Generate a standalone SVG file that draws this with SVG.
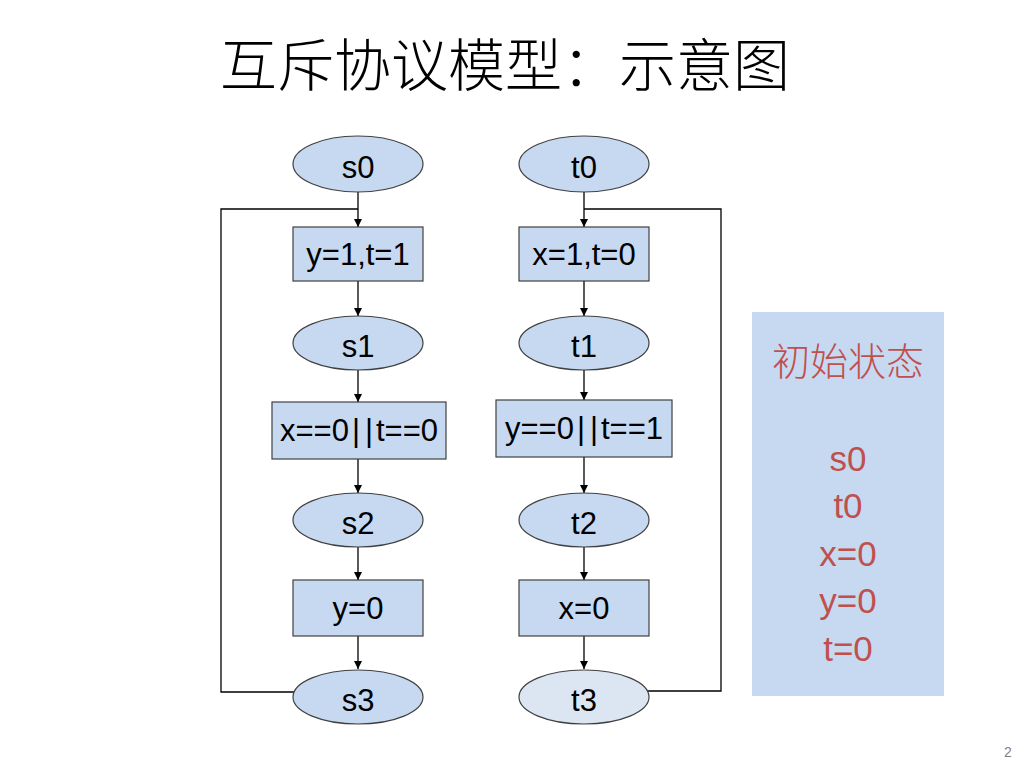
<svg xmlns="http://www.w3.org/2000/svg" width="1024" height="768" viewBox="0 0 1024 768">
<defs>
<marker id="arr" viewBox="0 0 10 10" refX="10" refY="5" markerWidth="8" markerHeight="9" markerUnits="userSpaceOnUse" orient="auto">
<path d="M0,0 L10,5 L0,10 z" fill="#000"/>
</marker>
<style>
.node{fill:#c6d9f1;stroke:#404040;stroke-width:1.2}
.light{fill:#dce6f2;stroke:#404040;stroke-width:1.2}
.lbl{font-family:"Liberation Sans",Arial,sans-serif;font-size:31px;fill:#000;text-anchor:middle}
.conn{fill:none;stroke:#000;stroke-width:1.3}
.red{font-family:"Liberation Sans",Arial,sans-serif;font-size:35px;fill:#c0504d;text-anchor:middle}
.cjk{font-family:"Noto Sans CJK SC",sans-serif;font-weight:300}
</style>
</defs>
<rect width="1024" height="768" fill="#fff"/>
<text class="cjk" x="505" y="86" font-size="57" text-anchor="middle" fill="#000">互斥协议模型：示意图</text>

<g id="connectors">
<line class="conn" x1="358" y1="192" x2="358" y2="227" marker-end="url(#arr)"/>
<line class="conn" x1="358" y1="281" x2="358" y2="316" marker-end="url(#arr)"/>
<line class="conn" x1="358" y1="370" x2="358" y2="402" marker-end="url(#arr)"/>
<line class="conn" x1="358" y1="459" x2="358" y2="493" marker-end="url(#arr)"/>
<line class="conn" x1="358" y1="547" x2="358" y2="580" marker-end="url(#arr)"/>
<line class="conn" x1="358" y1="636" x2="358" y2="669" marker-end="url(#arr)"/>
<polyline class="conn" points="295,692 221,692 221,209 358,209"/>
<line class="conn" x1="584" y1="192" x2="584" y2="227" marker-end="url(#arr)"/>
<line class="conn" x1="584" y1="281" x2="584" y2="316" marker-end="url(#arr)"/>
<line class="conn" x1="584" y1="370" x2="584" y2="400" marker-end="url(#arr)"/>
<line class="conn" x1="584" y1="457" x2="584" y2="493" marker-end="url(#arr)"/>
<line class="conn" x1="584" y1="547" x2="584" y2="580" marker-end="url(#arr)"/>
<line class="conn" x1="584" y1="636" x2="584" y2="669" marker-end="url(#arr)"/>
<polyline class="conn" points="647,691 721,691 721,209 584,209"/>
</g>

<g id="s0"><ellipse class="node" cx="358" cy="164" rx="65" ry="28"/><text class="lbl" x="358" y="178">s0</text></g>
<g id="a1"><rect class="node" x="293" y="227" width="130" height="54"/><text class="lbl" x="358" y="265">y=1,t=1</text></g>
<g id="s1"><ellipse class="node" cx="358" cy="343" rx="65" ry="27"/><text class="lbl" x="358" y="357">s1</text></g>
<g id="c1"><rect class="node" x="272" y="402" width="174" height="57"/><text class="lbl" x="359" y="441">x==0<tspan dx="3">|</tspan><tspan dx="5">|</tspan><tspan dx="3">t==0</tspan></text></g>
<g id="s2"><ellipse class="node" cx="358" cy="520" rx="65" ry="27"/><text class="lbl" x="358" y="534">s2</text></g>
<g id="a2"><rect class="node" x="293" y="580" width="130" height="56"/><text class="lbl" x="358" y="619">y=0</text></g>
<g id="s3"><ellipse class="node" cx="358" cy="697" rx="65" ry="27"/><text class="lbl" x="358" y="711">s3</text></g>

<g id="t0"><ellipse class="node" cx="584" cy="164" rx="65" ry="28"/><text class="lbl" x="584" y="178">t0</text></g>
<g id="b1"><rect class="node" x="519" y="227" width="130" height="54"/><text class="lbl" x="584" y="265">x=1,t=0</text></g>
<g id="t1"><ellipse class="node" cx="584" cy="343" rx="65" ry="27"/><text class="lbl" x="584" y="357">t1</text></g>
<g id="d1"><rect class="node" x="496" y="400" width="176" height="57"/><text class="lbl" x="584" y="439">y==0<tspan dx="3">|</tspan><tspan dx="5">|</tspan><tspan dx="3">t==1</tspan></text></g>
<g id="t2"><ellipse class="node" cx="584" cy="520" rx="65" ry="27"/><text class="lbl" x="584" y="534">t2</text></g>
<g id="b2"><rect class="node" x="519" y="580" width="130" height="56"/><text class="lbl" x="584" y="619">x=0</text></g>
<g id="t3"><ellipse class="light" cx="584" cy="697" rx="65" ry="27"/><text class="lbl" x="584" y="711">t3</text></g>

<g id="init">
<rect x="752" y="312" width="192" height="384" fill="#c6d9f1"/>
<text class="cjk" x="848" y="375" font-size="38" fill="#c0504d" text-anchor="middle">初始状态</text>
<text class="red" x="848" y="471">s0</text>
<text class="red" x="848" y="518">t0</text>
<text class="red" x="848" y="566">x=0</text>
<text class="red" x="848" y="613">y=0</text>
<text class="red" x="848" y="661">t=0</text>
</g>
<text x="1008" y="757" font-family="'Liberation Sans',Arial,sans-serif" font-size="14" fill="#808080" text-anchor="middle">2</text>
</svg>
